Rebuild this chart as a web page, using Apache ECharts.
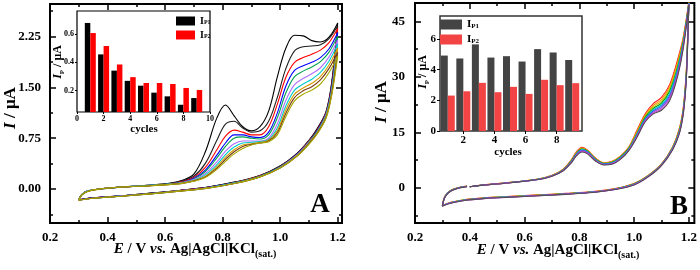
<!DOCTYPE html>
<html>
<head>
<meta charset="utf-8">
<script src="https://cdn.jsdelivr.net/npm/echarts@6/dist/echarts.min.js"></script>
<style>
  html, body { margin: 0; padding: 0; background: #fff; }
  #chart { width: 700px; height: 270px; }
</style>
</head>
<body>
<div id="chart"></div>
<script>
// ---- panel A : CV curves (potential grid + current per cycle) ----
const A_E_FWD = [0.30, 0.31, 0.33, 0.37, 0.45, 0.55, 0.62, 0.66, 0.70, 0.74, 0.78, 0.81, 0.84, 0.87, 0.90, 0.93, 0.96, 0.99, 1.02, 1.05, 1.08, 1.11, 1.14, 1.17, 1.20];
const A_I_FWD = [
  [-0.16, -0.08, -0.03, 0.00, 0.03, 0.06, 0.09, 0.13, 0.22, 0.55, 1.05, 1.24, 1.08, 0.92, 0.86, 0.92, 1.15, 1.65, 2.08, 2.27, 2.26, 2.19, 2.17, 2.24, 2.45],
  [-0.16, -0.08, -0.03, 0.00, 0.03, 0.06, 0.085, 0.12, 0.19, 0.38, 0.72, 0.96, 1.00, 0.90, 0.84, 0.86, 1.00, 1.35, 1.78, 2.04, 2.10, 2.11, 2.13, 2.22, 2.41],
  [-0.16, -0.08, -0.03, 0.00, 0.03, 0.055, 0.08, 0.11, 0.17, 0.32, 0.58, 0.78, 0.87, 0.84, 0.80, 0.80, 0.92, 1.25, 1.65, 1.87, 1.94, 1.99, 2.05, 2.16, 2.37],
  [-0.16, -0.085, -0.03, 0.00, 0.03, 0.055, 0.08, 0.10, 0.16, 0.28, 0.50, 0.68, 0.80, 0.80, 0.77, 0.76, 0.84, 1.12, 1.52, 1.75, 1.82, 1.87, 1.94, 2.07, 2.31],
  [-0.16, -0.085, -0.03, 0.00, 0.03, 0.055, 0.08, 0.10, 0.15, 0.26, 0.46, 0.63, 0.75, 0.77, 0.75, 0.74, 0.80, 1.05, 1.42, 1.66, 1.74, 1.80, 1.88, 2.02, 2.26],
  [-0.16, -0.085, -0.03, 0.00, 0.03, 0.055, 0.075, 0.095, 0.14, 0.23, 0.40, 0.56, 0.67, 0.71, 0.71, 0.71, 0.75, 0.96, 1.31, 1.54, 1.63, 1.70, 1.79, 1.95, 2.20],
  [-0.16, -0.085, -0.03, 0.00, 0.03, 0.055, 0.075, 0.09, 0.13, 0.21, 0.36, 0.51, 0.62, 0.68, 0.69, 0.70, 0.73, 0.90, 1.23, 1.46, 1.55, 1.62, 1.72, 1.89, 2.14],
  [-0.165, -0.09, -0.035, 0.00, 0.03, 0.05, 0.07, 0.09, 0.125, 0.19, 0.33, 0.47, 0.58, 0.65, 0.67, 0.69, 0.72, 0.86, 1.17, 1.40, 1.49, 1.56, 1.66, 1.83, 2.08],
  [-0.165, -0.09, -0.035, 0.00, 0.03, 0.05, 0.07, 0.085, 0.12, 0.18, 0.31, 0.44, 0.55, 0.63, 0.66, 0.68, 0.71, 0.83, 1.12, 1.35, 1.45, 1.51, 1.61, 1.78, 2.02],
  [-0.165, -0.09, -0.035, 0.00, 0.03, 0.05, 0.07, 0.085, 0.115, 0.17, 0.29, 0.41, 0.52, 0.60, 0.65, 0.68, 0.70, 0.80, 1.07, 1.30, 1.40, 1.46, 1.55, 1.72, 1.96]
];
const A_E_REV = [1.18, 1.16, 1.13, 1.10, 1.06, 1.00, 0.93, 0.85, 0.75, 0.65, 0.55, 0.45, 0.35, 0.30];
const A_I_REV = [
  [1.60, 1.15, 0.90, 0.72, 0.53, 0.34, 0.20, 0.11, 0.03, -0.02, -0.06, -0.10, -0.13, -0.16],
  [1.58, 1.14, 0.89, 0.71, 0.53, 0.34, 0.20, 0.11, 0.03, -0.02, -0.06, -0.10, -0.13, -0.16],
  [1.55, 1.13, 0.88, 0.71, 0.52, 0.335, 0.195, 0.105, 0.025, -0.02, -0.065, -0.10, -0.13, -0.16],
  [1.53, 1.12, 0.87, 0.70, 0.52, 0.33, 0.19, 0.10, 0.025, -0.025, -0.065, -0.10, -0.13, -0.16],
  [1.50, 1.11, 0.86, 0.70, 0.51, 0.325, 0.19, 0.10, 0.02, -0.025, -0.065, -0.10, -0.135, -0.16],
  [1.48, 1.10, 0.85, 0.69, 0.51, 0.32, 0.185, 0.095, 0.02, -0.025, -0.07, -0.10, -0.135, -0.16],
  [1.46, 1.09, 0.85, 0.68, 0.50, 0.32, 0.185, 0.095, 0.02, -0.03, -0.07, -0.105, -0.135, -0.165],
  [1.44, 1.08, 0.84, 0.68, 0.50, 0.315, 0.18, 0.09, 0.02, -0.03, -0.07, -0.105, -0.135, -0.165],
  [1.42, 1.06, 0.83, 0.67, 0.49, 0.31, 0.18, 0.09, 0.015, -0.03, -0.07, -0.105, -0.135, -0.165],
  [1.40, 1.05, 0.82, 0.66, 0.49, 0.31, 0.18, 0.09, 0.015, -0.03, -0.07, -0.105, -0.135, -0.165]
];
const A_COLORS = ['#000000', '#1e1e1e', '#ff0000', '#0000ff', '#00a050', '#b070ff', '#00cccc', '#d49c00', '#7a3d10', '#a8a800'];

// ---- panel B : CV curves ----
const B_E_FWD = [0.40, 0.45, 0.55, 0.65, 0.70, 0.74, 0.77, 0.79, 0.81, 0.83, 0.86, 0.89, 0.92, 0.95, 0.98, 1.01, 1.04, 1.07, 1.10, 1.13, 1.16, 1.18, 1.20];
const B_I_FWD = [
  [0.30, 0.80, 1.50, 2.40, 3.40, 5.00, 7.50, 9.80, 11.0, 10.2, 8.00, 6.80, 7.20, 8.60, 11.0, 15.5, 20.0, 22.8, 24.5, 28.0, 35.0, 41.0, 50.5],
  [0.30, 0.79, 1.49, 2.38, 3.36, 4.92, 7.38, 9.62, 10.8, 10.1, 7.92, 6.74, 7.12, 8.50, 10.9, 15.2, 19.6, 22.3, 23.9, 27.4, 34.3, 40.6, 50.3],
  [0.30, 0.78, 1.48, 2.36, 3.33, 4.85, 7.28, 9.48, 10.65, 10.0, 7.82, 6.66, 7.02, 8.40, 10.75, 14.9, 19.3, 21.9, 23.4, 26.8, 33.7, 40.2, 50.2],
  [0.30, 0.78, 1.47, 2.34, 3.30, 4.80, 7.18, 9.35, 10.5, 9.90, 7.72, 6.58, 6.92, 8.28, 10.6, 14.6, 19.0, 21.5, 22.9, 26.2, 33.0, 39.8, 50.1],
  [0.30, 0.77, 1.46, 2.32, 3.27, 4.74, 7.08, 9.22, 10.35, 9.78, 7.62, 6.50, 6.82, 8.16, 10.45, 14.4, 18.7, 21.1, 22.5, 25.6, 32.5, 39.4, 50.0],
  [0.30, 0.77, 1.45, 2.30, 3.24, 4.69, 6.98, 9.10, 10.2, 9.66, 7.52, 6.42, 6.72, 8.04, 10.3, 14.2, 18.5, 20.8, 22.1, 25.0, 31.9, 39.0, 49.9],
  [0.30, 0.76, 1.43, 2.28, 3.21, 4.64, 6.88, 8.96, 10.0, 9.52, 7.42, 6.34, 6.62, 7.92, 10.2, 14.0, 18.2, 20.5, 21.7, 24.5, 31.4, 38.7, 49.8],
  [0.30, 0.76, 1.42, 2.26, 3.18, 4.59, 6.78, 8.82, 9.85, 9.36, 7.30, 6.26, 6.50, 7.80, 10.1, 13.8, 18.0, 20.2, 21.3, 24.0, 30.9, 38.3, 49.6],
  [0.30, 0.75, 1.40, 2.25, 3.15, 4.55, 6.70, 8.70, 9.70, 9.20, 7.20, 6.20, 6.40, 7.70, 10.0, 13.6, 17.8, 20.0, 21.0, 23.6, 30.5, 38.0, 49.5]
];
const B_E_REV = [1.195, 1.19, 1.18, 1.165, 1.14, 1.10, 1.05, 1.00, 0.93, 0.85, 0.75, 0.65, 0.55, 0.45, 0.38, 0.33, 0.30];
const B_I_REV = [
  [40.0, 31.0, 22.0, 16.0, 11.0, 6.50, 3.30, 1.20, -0.20, -1.00, -1.50, -1.90, -2.30, -2.70, -3.20, -3.90, -4.70],
  [39.6, 30.6, 21.7, 15.8, 10.9, 6.40, 3.25, 1.15, -0.25, -1.05, -1.55, -1.95, -2.35, -2.75, -3.25, -3.95, -4.75],
  [39.3, 30.3, 21.4, 15.6, 10.8, 6.35, 3.20, 1.10, -0.30, -1.10, -1.60, -2.00, -2.35, -2.75, -3.25, -4.00, -4.80],
  [39.0, 30.0, 21.2, 15.4, 10.7, 6.30, 3.15, 1.05, -0.30, -1.10, -1.60, -2.00, -2.40, -2.80, -3.30, -4.00, -4.80],
  [38.7, 29.7, 21.0, 15.2, 10.6, 6.25, 3.10, 1.00, -0.35, -1.15, -1.65, -2.05, -2.40, -2.80, -3.30, -4.05, -4.85],
  [38.4, 29.4, 20.8, 15.0, 10.5, 6.20, 3.05, 0.95, -0.35, -1.15, -1.65, -2.05, -2.45, -2.85, -3.35, -4.05, -4.85],
  [38.1, 29.1, 20.6, 14.9, 10.4, 6.15, 3.00, 0.90, -0.40, -1.20, -1.70, -2.10, -2.45, -2.85, -3.35, -4.10, -4.90],
  [37.8, 28.8, 20.4, 14.8, 10.3, 6.10, 2.95, 0.85, -0.40, -1.20, -1.70, -2.10, -2.50, -2.90, -3.40, -4.10, -4.90],
  [37.5, 28.5, 20.2, 14.6, 10.2, 6.05, 2.90, 0.80, -0.45, -1.25, -1.75, -2.15, -2.50, -2.90, -3.40, -4.15, -4.95]
];
const B_E_TAIL = [0.31, 0.33, 0.36, 0.39];
const B_I_TAIL = [
  [-2.20, -0.70, 0.10, 0.50],
  [-2.22, -0.72, 0.08, 0.48],
  [-2.25, -0.75, 0.06, 0.46],
  [-2.27, -0.77, 0.04, 0.44],
  [-2.30, -0.80, 0.02, 0.42],
  [-2.32, -0.82, 0.00, 0.40],
  [-2.35, -0.85, -0.02, 0.38],
  [-2.37, -0.87, -0.04, 0.36],
  [-2.40, -0.90, -0.05, 0.35]
];
const B_COLORS = ['#ff2020', '#ff8c00', '#c0c000', '#00a000', '#00c8c8', '#2060ff', '#9050d0', '#d040d0', '#505050'];

// ---- insets : peak currents per cycle ----
const CYCLES = [1, 2, 3, 4, 5, 6, 7, 8, 9];
const A_IP1 = [0.676, 0.455, 0.341, 0.269, 0.235, 0.186, 0.160, 0.101, 0.148];
const A_IP2 = [0.605, 0.514, 0.384, 0.295, 0.254, 0.254, 0.247, 0.219, 0.205];
const B_IP1 = [4.92, 4.73, 5.65, 4.79, 4.88, 4.53, 5.34, 5.12, 4.63];
const B_IP2 = [2.31, 2.59, 3.14, 2.53, 2.88, 2.42, 3.34, 2.99, 3.12];

// ---- ticks ----
const A_X_MAJOR = [0.2, 0.4, 0.6, 0.8, 1.0, 1.2];
const A_X_MINOR = [0.3, 0.5, 0.7, 0.9, 1.1];
const A_Y_MAJOR = [0, 0.75, 1.5, 2.25];
const A_Y_MINOR = [-0.375, 0.375, 1.125, 1.875, 2.625];
const B_Y_MAJOR = [0, 15, 30, 45];
const B_Y_MINOR = [-7.5, 7.5, 22.5, 37.5];
const INA_X_TICKS = [0, 2, 4, 6, 8, 10];
const INA_Y_TICKS = [0.2, 0.4, 0.6];
const INB_X_TICKS = [2, 4, 6, 8];
const INB_Y_TICKS = [0, 2, 4, 6];

const SERIF = 'Liberation Serif';
const chart = echarts.init(document.getElementById('chart'));

// one helper for every frame/tick axis
function tickAxis(grid, pos, min, max, ticks, len, labels) {
  return {
    type: 'value', gridIndex: grid, position: pos, min: min, max: max,
    axisLine: { show: false, onZero: false },
    splitLine: { show: false },
    axisTick: { show: true, inside: true, length: len, customValues: ticks, lineStyle: { color: '#000', width: 1.5 } },
    axisLabel: labels ? Object.assign({
      show: true, color: '#000', fontFamily: SERIF, fontWeight: 'bold', fontSize: 13
    }, labels) : { show: false }
  };
}

function loop(eF, iF, eR, iR, eT, iT) {
  const pts = [];
  eF.forEach((e, k) => pts.push([e, iF[k]]));
  eR.forEach((e, k) => pts.push([e, iR[k]]));
  if (eT) eT.forEach((e, k) => pts.push([e, iT[k]]));
  return pts;
}

const xAxes = [
  // A main (0-3)
  tickAxis(0, 'bottom', 0.2, 1.215, A_X_MAJOR, 6, { customValues: A_X_MAJOR, margin: 8, formatter: v => v.toFixed(1) }),
  tickAxis(0, 'bottom', 0.2, 1.215, A_X_MINOR, 3),
  tickAxis(0, 'top', 0.2, 1.215, A_X_MAJOR, 6),
  tickAxis(0, 'top', 0.2, 1.215, A_X_MINOR, 3),
  // B main (4-7)
  tickAxis(1, 'bottom', 0.2, 1.22, A_X_MAJOR, 6, { customValues: A_X_MAJOR, margin: 8, formatter: v => v.toFixed(1) }),
  tickAxis(1, 'bottom', 0.2, 1.22, A_X_MINOR, 3),
  tickAxis(1, 'top', 0.2, 1.22, A_X_MAJOR, 6),
  tickAxis(1, 'top', 0.2, 1.22, A_X_MINOR, 3),
  // inset A (8)
  {
    type: 'value', gridIndex: 2, min: 0, max: 10,
    axisLine: { show: false, onZero: false }, splitLine: { show: false },
    axisTick: { show: true, length: 2, customValues: INA_X_TICKS, lineStyle: { color: '#000' } },
    axisLabel: { customValues: INA_X_TICKS, margin: 3, color: '#000', fontFamily: SERIF, fontWeight: 'bold', fontSize: 8 }
  },
  // inset B (9)
  {
    type: 'value', gridIndex: 3, min: 0.5, max: 9.63,
    axisLine: { show: false, onZero: false }, splitLine: { show: false },
    axisTick: { show: true, length: 3, customValues: INB_X_TICKS, lineStyle: { color: '#000' } },
    axisLabel: { customValues: INB_X_TICKS, margin: 4, color: '#000', fontFamily: SERIF, fontWeight: 'bold', fontSize: 11 }
  }
];

const yAxes = [
  tickAxis(0, 'left', -0.5, 2.73, A_Y_MAJOR, 6, { customValues: A_Y_MAJOR, margin: 9, formatter: v => v.toFixed(2) }),
  tickAxis(0, 'left', -0.5, 2.73, A_Y_MINOR, 3),
  tickAxis(0, 'right', -0.5, 2.73, A_Y_MAJOR, 6),
  tickAxis(0, 'right', -0.5, 2.73, A_Y_MINOR, 3),
  tickAxis(1, 'left', -9.5, 50, B_Y_MAJOR, 6, { customValues: B_Y_MAJOR, margin: 10 }),
  tickAxis(1, 'left', -9.5, 50, B_Y_MINOR, 3),
  tickAxis(1, 'right', -9.5, 50, B_Y_MAJOR, 6),
  tickAxis(1, 'right', -9.5, 50, B_Y_MINOR, 3),
  {
    type: 'value', gridIndex: 2, min: 0.05, max: 0.76,
    axisLine: { show: false, onZero: false }, splitLine: { show: false },
    axisTick: { show: true, length: 2, customValues: INA_Y_TICKS, lineStyle: { color: '#000' } },
    axisLabel: { customValues: INA_Y_TICKS, margin: 3, color: '#000', fontFamily: SERIF, fontWeight: 'bold', fontSize: 8, formatter: v => v.toFixed(1) }
  },
  {
    type: 'value', gridIndex: 3, min: 0, max: 7.5,
    axisLine: { show: false, onZero: false }, splitLine: { show: false },
    axisTick: { show: true, length: 3, customValues: INB_Y_TICKS, lineStyle: { color: '#000' } },
    axisLabel: { customValues: INB_Y_TICKS, margin: 4, color: '#000', fontFamily: SERIF, fontWeight: 'bold', fontSize: 11 }
  }
];

const series = [];
A_I_FWD.forEach((row, k) => {
  series.push({
    type: 'line', xAxisIndex: 0, yAxisIndex: 0, smooth: 0.35, showSymbol: false,
    data: loop(A_E_FWD, row, A_E_REV, A_I_REV[k]),
    lineStyle: { color: A_COLORS[k], width: 1.1 }, silent: true
  });
});
B_I_FWD.forEach((row, k) => {
  series.push({
    type: 'line', xAxisIndex: 4, yAxisIndex: 4, smooth: 0.35, showSymbol: false,
    data: loop(B_E_FWD, row, B_E_REV, B_I_REV[k], B_E_TAIL, B_I_TAIL[k]),
    lineStyle: { color: B_COLORS[k], width: 1.1 }, silent: true
  });
});
series.push(
  { name: 'a1', type: 'bar', xAxisIndex: 8, yAxisIndex: 8, barWidth: 5.5, barGap: '0%',
    data: CYCLES.map((c, k) => [c, A_IP1[k]]), itemStyle: { color: '#000' } },
  { name: 'a2', type: 'bar', xAxisIndex: 8, yAxisIndex: 8, barWidth: 5.5, barGap: '0%',
    data: CYCLES.map((c, k) => [c, A_IP2[k]]), itemStyle: { color: '#ff0000' } },
  { name: 'b1', type: 'bar', xAxisIndex: 9, yAxisIndex: 9, barWidth: 7, barGap: '0%',
    data: CYCLES.map((c, k) => [c, B_IP1[k]]), itemStyle: { color: '#444444' } },
  { name: 'b2', type: 'bar', xAxisIndex: 9, yAxisIndex: 9, barWidth: 7, barGap: '0%',
    data: CYCLES.map((c, k) => [c, B_IP2[k]]), itemStyle: { color: '#f24444' } }
);

// rich text styles
const T = (size, extra) => Object.assign({ fontFamily: SERIF, fontSize: size, fontWeight: 'bold', color: '#000' }, extra || {});
const titleRich = {
  i: T(17, { fontStyle: 'italic', lineHeight: 20 }),
  b: T(17, { lineHeight: 20 }),
  xi: T(15, { fontStyle: 'italic', lineHeight: 20 }),
  xb: T(15, { lineHeight: 20 }),
  s: T(10, { lineHeight: 6, verticalAlign: 'bottom' })
};
const insetRich = (size) => ({
  i: T(size, { fontStyle: 'italic', lineHeight: size + 4 }),
  b: T(size, { lineHeight: size + 4 }),
  s: T(Math.round(size * 0.62), { lineHeight: 5, verticalAlign: 'bottom' })
});
const legendRich = (size) => ({
  i: T(size, { lineHeight: size - 1 }),
  s: T(Math.round(size * 0.6), { lineHeight: 3, verticalAlign: 'bottom' })
});

function txt(x, y, text, rich, rot, extra) {
  return {
    type: 'text', x: x, y: y, rotation: rot || 0, silent: true,
    style: Object.assign({ text: text, rich: rich, align: 'center', verticalAlign: 'middle' }, extra || {})
  };
}

const option = {
  animation: false,
  backgroundColor: '#fff',
  grid: [
    { left: 50, top: 4, width: 292, height: 219, show: true, borderColor: '#000', borderWidth: 2 },
    { left: 415, top: 3, width: 282, height: 220, show: true, borderColor: '#000', borderWidth: 2 },
    { left: 77, top: 11, width: 133, height: 101, show: true, borderColor: '#000', borderWidth: 1.2, backgroundColor: '#fff' },
    { left: 440, top: 16, width: 142, height: 115, show: true, borderColor: '#333', borderWidth: 1.5, backgroundColor: '#fff' }
  ],
  xAxis: xAxes,
  yAxis: yAxes,
  legend: [
    { data: ['a1', 'a2'], left: 176, top: 16, orient: 'vertical', itemWidth: 19, itemHeight: 9, itemGap: 4, padding: 0,
      icon: 'rect', formatter: n => n === 'a1' ? '{i|I}{s|P1}' : '{i|I}{s|P2}',
      textStyle: { rich: legendRich(10) }, itemStyle: { borderWidth: 0 } },
    { data: ['b1', 'b2'], left: 440, top: 19, orient: 'vertical', itemWidth: 22, itemHeight: 10, itemGap: 4, padding: 0,
      icon: 'rect', formatter: n => n === 'b1' ? '{i|I}{s|P1}' : '{i|I}{s|P2}',
      textStyle: { rich: legendRich(11) }, itemStyle: { borderWidth: 0 } }
  ],
  graphic: [
    txt(11, 108, '{i|I}{b| / μA}', titleRich, Math.PI / 2),
    txt(382, 102, '{i|I}{b| / μA}', titleRich, Math.PI / 2),
    txt(195, 249, '{xi|E}{xb| / V }{xi|vs.}{xb| Ag|AgCl|KCl}{s|(sat.)}', titleRich),
    txt(558, 250, '{xi|E}{xb| / V }{xi|vs.}{xb| Ag|AgCl|KCl}{s|(sat.)}', titleRich),
    txt(58, 62, '{i|I}{s|P}{b| / μA}', insetRich(12), Math.PI / 2),
    txt(423, 72, '{i|I}{s|P}{b| / μA}', insetRich(12), Math.PI / 2),
    txt(144, 129, '{b|cycles}', insetRich(11)),
    txt(508, 152, '{b|cycles}', insetRich(11)),
    txt(320, 205, '{b|A}', { b: T(27) }),
    txt(679, 207, '{b|B}', { b: T(27) })
  ],
  series: series
};

chart.setOption(option);
</script>
</body>
</html>
